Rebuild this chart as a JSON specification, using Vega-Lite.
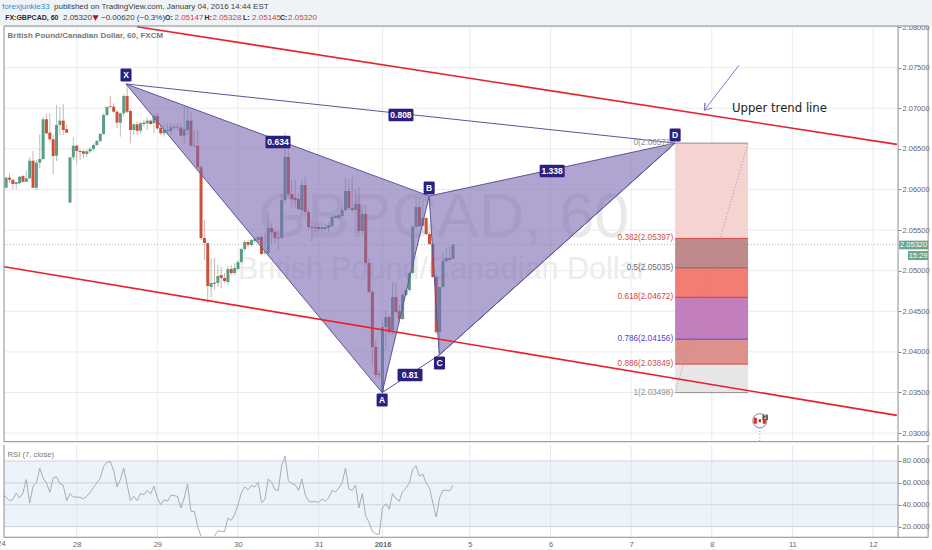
{
  "$schema": "https://vega.github.io/schema/vega-lite/v6.json",
  "description": "GBPCAD 60 minute chart with a bearish harmonic pattern, fib levels, trend lines and RSI",
  "background": "white",
  "padding": 0,
  "spacing": 0,
  "config": {
    "view": {"stroke": null},
    "font": "Liberation Sans",
    "text": {"font": "Liberation Sans"},
    "axis": {"grid": false}
  },
  "datasets": {
    "candles": [
      {"bar":-21,"open":2.06021,"close":2.06145,"high":2.06157,"low":2.06014},
      {"bar":-20,"open":2.06145,"close":2.0612,"high":2.06199,"low":2.06076},
      {"bar":-19,"open":2.0612,"close":2.06067,"high":2.06125,"low":2.06002},
      {"bar":-18,"open":2.06067,"close":2.06088,"high":2.06095,"low":2.06002},
      {"bar":-17,"open":2.06076,"close":2.06157,"high":2.06166,"low":2.06067},
      {"bar":-16,"open":2.06166,"close":2.06095,"high":2.06178,"low":2.06083},
      {"bar":-15,"open":2.06095,"close":2.06137,"high":2.06231,"low":2.06092},
      {"bar":-14,"open":2.06137,"close":2.06354,"high":2.06396,"low":2.06129},
      {"bar":-13,"open":2.06354,"close":2.06021,"high":2.06473,"low":2.06021},
      {"bar":-12,"open":2.06021,"close":2.06329,"high":2.06363,"low":2.05993},
      {"bar":-11,"open":2.06329,"close":2.06375,"high":2.06679,"low":2.0626},
      {"bar":-10,"open":2.06375,"close":2.06864,"high":2.06896,"low":2.06363},
      {"bar":-9,"open":2.06864,"close":2.06691,"high":2.06938,"low":2.06683},
      {"bar":-8,"open":2.06699,"close":2.06618,"high":2.06938,"low":2.06588},
      {"bar":-7,"open":2.06618,"close":2.06412,"high":2.0667,"low":2.06186},
      {"bar":-6,"open":2.06416,"close":2.06794,"high":2.0704,"low":2.0635},
      {"bar":-5,"open":2.06794,"close":2.06847,"high":2.07019,"low":2.0667},
      {"bar":-4,"open":2.06847,"close":2.06732,"high":2.07052,"low":2.0667},
      {"bar":-3,"open":2.06741,"close":2.06699,"high":2.06794,"low":2.06699},
      {"bar":-2,"open":2.05837,"close":2.06396,"high":2.06396,"low":2.05837},
      {"bar":-1,"open":2.06396,"close":2.06539,"high":2.06642,"low":2.06363},
      {"bar":0,"open":2.06539,"close":2.06473,"high":2.06547,"low":2.06322},
      {"bar":1,"open":2.06473,"close":2.06461,"high":2.06494,"low":2.06363},
      {"bar":2,"open":2.0647,"close":2.0644,"high":2.06486,"low":2.06384},
      {"bar":3,"open":2.06436,"close":2.0647,"high":2.06494,"low":2.06396},
      {"bar":4,"open":2.0647,"close":2.06498,"high":2.06526,"low":2.06445},
      {"bar":5,"open":2.06498,"close":2.06547,"high":2.06568,"low":2.06477},
      {"bar":6,"open":2.06547,"close":2.06597,"high":2.06609,"low":2.06535},
      {"bar":7,"open":2.06597,"close":2.06683,"high":2.06699,"low":2.06584},
      {"bar":8,"open":2.06683,"close":2.06917,"high":2.06938,"low":2.06674},
      {"bar":9,"open":2.06917,"close":2.07015,"high":2.07028,"low":2.06904},
      {"bar":10,"open":2.07028,"close":2.07019,"high":2.07151,"low":2.06999},
      {"bar":11,"open":2.07019,"close":2.06957,"high":2.07061,"low":2.06938},
      {"bar":12,"open":2.06957,"close":2.06822,"high":2.06978,"low":2.06753},
      {"bar":13,"open":2.06822,"close":2.06938,"high":2.06945,"low":2.0665},
      {"bar":14,"open":2.06938,"close":2.07151,"high":2.07175,"low":2.06896},
      {"bar":15,"open":2.07151,"close":2.06957,"high":2.07286,"low":2.06938},
      {"bar":16,"open":2.06966,"close":2.06732,"high":2.06987,"low":2.06568},
      {"bar":17,"open":2.06732,"close":2.06802,"high":2.06815,"low":2.0667},
      {"bar":18,"open":2.06802,"close":2.06723,"high":2.06834,"low":2.0667},
      {"bar":19,"open":2.06723,"close":2.06815,"high":2.06834,"low":2.06691},
      {"bar":20,"open":2.06822,"close":2.06806,"high":2.06855,"low":2.06773},
      {"bar":21,"open":2.06815,"close":2.06847,"high":2.06888,"low":2.06732},
      {"bar":22,"open":2.06847,"close":2.06806,"high":2.06864,"low":2.06794},
      {"bar":23,"open":2.06815,"close":2.06904,"high":2.06938,"low":2.06691},
      {"bar":24,"open":2.06904,"close":2.06753,"high":2.06938,"low":2.06732},
      {"bar":25,"open":2.0676,"close":2.06691,"high":2.06794,"low":2.0667},
      {"bar":26,"open":2.06691,"close":2.06732,"high":2.06794,"low":2.0665},
      {"bar":27,"open":2.0672,"close":2.06732,"high":2.06815,"low":2.06691},
      {"bar":28,"open":2.0672,"close":2.06765,"high":2.06815,"low":2.0667},
      {"bar":29,"open":2.0676,"close":2.06773,"high":2.06815,"low":2.06732},
      {"bar":30,"open":2.06773,"close":2.06765,"high":2.06822,"low":2.06732},
      {"bar":31,"open":2.0676,"close":2.06662,"high":2.06815,"low":2.0665},
      {"bar":32,"open":2.06662,"close":2.06741,"high":2.07019,"low":2.06568},
      {"bar":33,"open":2.06732,"close":2.06847,"high":2.07019,"low":2.0667},
      {"bar":34,"open":2.06847,"close":2.06539,"high":2.06957,"low":2.06526},
      {"bar":35,"open":2.06539,"close":2.06531,"high":2.06732,"low":2.06523},
      {"bar":36,"open":2.06539,"close":2.06273,"high":2.06732,"low":2.0626},
      {"bar":37,"open":2.06273,"close":2.05402,"high":2.06301,"low":2.05377},
      {"bar":38,"open":2.05402,"close":2.0534,"high":2.05624,"low":2.05131},
      {"bar":39,"open":2.0534,"close":2.04811,"high":2.0534,"low":2.04602},
      {"bar":40,"open":2.04799,"close":2.04848,"high":2.05156,"low":2.04675},
      {"bar":41,"open":2.04852,"close":2.04839,"high":2.05156,"low":2.04762},
      {"bar":42,"open":2.04848,"close":2.04934,"high":2.0507,"low":2.04799},
      {"bar":43,"open":2.04946,"close":2.04909,"high":2.05045,"low":2.04786},
      {"bar":44,"open":2.04909,"close":2.04872,"high":2.04971,"low":2.04848},
      {"bar":45,"open":2.0486,"close":2.0502,"high":2.05057,"low":2.04823},
      {"bar":46,"open":2.0502,"close":2.04971,"high":2.0507,"low":2.04946},
      {"bar":47,"open":2.04971,"close":2.05033,"high":2.05094,"low":2.04946},
      {"bar":48,"open":2.0502,"close":2.05106,"high":2.05131,"low":2.05008},
      {"bar":49,"open":2.05106,"close":2.05267,"high":2.05279,"low":2.05094},
      {"bar":50,"open":2.05267,"close":2.05353,"high":2.05377,"low":2.05242},
      {"bar":51,"open":2.05353,"close":2.05316,"high":2.05377,"low":2.05291},
      {"bar":52,"open":2.05316,"close":2.05377,"high":2.0539,"low":2.05291},
      {"bar":53,"open":2.05365,"close":2.0539,"high":2.05414,"low":2.0534},
      {"bar":54,"open":2.05377,"close":2.05414,"high":2.05427,"low":2.05353},
      {"bar":55,"open":2.05414,"close":2.05205,"high":2.05439,"low":2.05193},
      {"bar":56,"open":2.05217,"close":2.0523,"high":2.05464,"low":2.05193},
      {"bar":57,"open":2.05217,"close":2.05525,"high":2.0571,"low":2.05193},
      {"bar":58,"open":2.05525,"close":2.05476,"high":2.05587,"low":2.05316},
      {"bar":59,"open":2.05476,"close":2.05402,"high":2.05501,"low":2.0534},
      {"bar":60,"open":2.05406,"close":2.05396,"high":2.05501,"low":2.05254},
      {"bar":61,"open":2.05402,"close":2.0587,"high":2.05956,"low":2.0539},
      {"bar":62,"open":2.0587,"close":2.064,"high":2.06699,"low":2.05833},
      {"bar":63,"open":2.064,"close":2.05944,"high":2.06547,"low":2.05907},
      {"bar":64,"open":2.05944,"close":2.05882,"high":2.06116,"low":2.05784},
      {"bar":65,"open":2.05895,"close":2.0587,"high":2.06116,"low":2.05771},
      {"bar":66,"open":2.05882,"close":2.05759,"high":2.05956,"low":2.05747},
      {"bar":67,"open":2.05747,"close":2.06055,"high":2.06116,"low":2.05661},
      {"bar":68,"open":2.06055,"close":2.05722,"high":2.06153,"low":2.05661},
      {"bar":69,"open":2.05722,"close":2.05537,"high":2.05771,"low":2.05501},
      {"bar":70,"open":2.05537,"close":2.05525,"high":2.05624,"low":2.05353},
      {"bar":71,"open":2.05525,"close":2.05537,"high":2.05587,"low":2.05476},
      {"bar":72,"open":2.05537,"close":2.05513,"high":2.05599,"low":2.05476},
      {"bar":73,"open":2.05513,"close":2.05537,"high":2.05599,"low":2.05476},
      {"bar":74,"open":2.05513,"close":2.05537,"high":2.05574,"low":2.05501},
      {"bar":75,"open":2.05525,"close":2.05562,"high":2.05599,"low":2.05476},
      {"bar":76,"open":2.0555,"close":2.05661,"high":2.05673,"low":2.05537},
      {"bar":77,"open":2.05648,"close":2.05673,"high":2.05685,"low":2.05648},
      {"bar":78,"open":2.05648,"close":2.05685,"high":2.0571,"low":2.05636},
      {"bar":79,"open":2.05673,"close":2.05747,"high":2.05784,"low":2.05661},
      {"bar":80,"open":2.05747,"close":2.05981,"high":2.06141,"low":2.05722},
      {"bar":81,"open":2.05981,"close":2.05771,"high":2.06116,"low":2.05747},
      {"bar":82,"open":2.05771,"close":2.05747,"high":2.06153,"low":2.05722},
      {"bar":83,"open":2.05747,"close":2.05821,"high":2.05993,"low":2.05747},
      {"bar":84,"open":2.05821,"close":2.05488,"high":2.0603,"low":2.05464},
      {"bar":85,"open":2.05488,"close":2.05698,"high":2.05808,"low":2.05439},
      {"bar":86,"open":2.05698,"close":2.05094,"high":2.05808,"low":2.0507},
      {"bar":87,"open":2.05094,"close":2.04737,"high":2.05156,"low":2.04725},
      {"bar":88,"open":2.04737,"close":2.0406,"high":2.04762,"low":2.03838},
      {"bar":89,"open":2.0406,"close":2.03715,"high":2.04146,"low":2.03678},
      {"bar":90,"open":2.03727,"close":2.03715,"high":2.03776,"low":2.03678},
      {"bar":91,"open":2.03509,"close":2.04306,"high":2.04368,"low":2.03505},
      {"bar":92,"open":2.04306,"close":2.04429,"high":2.04515,"low":2.04023},
      {"bar":93,"open":2.04429,"close":2.04244,"high":2.04454,"low":2.04207},
      {"bar":94,"open":2.04269,"close":2.04675,"high":2.0486,"low":2.04207},
      {"bar":95,"open":2.04675,"close":2.04491,"high":2.04848,"low":2.04478},
      {"bar":96,"open":2.04503,"close":2.04405,"high":2.04577,"low":2.04355},
      {"bar":97,"open":2.04405,"close":2.047,"high":2.04725,"low":2.04392},
      {"bar":98,"open":2.047,"close":2.04762,"high":2.04786,"low":2.04688},
      {"bar":99,"open":2.04762,"close":2.04971,"high":2.04983,"low":2.04737},
      {"bar":100,"open":2.04971,"close":2.05537,"high":2.05562,"low":2.04946},
      {"bar":101,"open":2.05537,"close":2.05784,"high":2.05907,"low":2.05525},
      {"bar":102,"open":2.05784,"close":2.0555,"high":2.05895,"low":2.05537},
      {"bar":103,"open":2.0555,"close":2.05648,"high":2.0587,"low":2.05464},
      {"bar":104,"open":2.05648,"close":2.05451,"high":2.05661,"low":2.05439},
      {"bar":105,"open":2.05451,"close":2.05328,"high":2.05476,"low":2.05316},
      {"bar":106,"open":2.05328,"close":2.04922,"high":2.0534,"low":2.04909},
      {"bar":107,"open":2.04922,"close":2.04244,"high":2.04946,"low":2.0422},
      {"bar":108,"open":2.04244,"close":2.04799,"high":2.04799,"low":2.03986},
      {"bar":109,"open":2.04799,"close":2.05119,"high":2.05217,"low":2.04786},
      {"bar":110,"open":2.05119,"close":2.05156,"high":2.05279,"low":2.05106},
      {"bar":111,"open":2.05131,"close":2.05156,"high":2.05291,"low":2.05119},
      {"bar":112,"open":2.05147,"close":2.0532,"high":2.05328,"low":2.05145}
    ],
    "rsi": [
      {"part":"a","bar":-22,"value":48.3},{"part":"a","bar":-21,"value":46.8},{"part":"a","bar":-20,"value":43.8},{"part":"a","bar":-19,"value":44.7},
      {"part":"a","bar":-18,"value":50.8},{"part":"a","bar":-17,"value":46.2},{"part":"a","bar":-16,"value":50.8},{"part":"a","bar":-15,"value":63},
      {"part":"a","bar":-14,"value":41.6},{"part":"a","bar":-13,"value":56.9},{"part":"a","bar":-12,"value":59.9},{"part":"a","bar":-11,"value":73.6},
      {"part":"a","bar":-10,"value":64.5},{"part":"a","bar":-9,"value":59.9},{"part":"a","bar":-8,"value":51.4},{"part":"a","bar":-7,"value":64.5},
      {"part":"a","bar":-6,"value":65.4},{"part":"a","bar":-5,"value":59.3},{"part":"a","bar":-4,"value":57.8},{"part":"a","bar":-3,"value":43.8},
      {"part":"a","bar":-2,"value":50.2},{"part":"a","bar":-1,"value":47.1},{"part":"a","bar":1,"value":46.8},{"part":"a","bar":2,"value":45.3},
      {"part":"a","bar":3,"value":47.7},{"part":"a","bar":4,"value":51.4},{"part":"a","bar":5,"value":55.9},{"part":"a","bar":6,"value":59.9},
      {"part":"a","bar":7,"value":64.5},{"part":"a","bar":8,"value":75.1},{"part":"a","bar":9,"value":78.8},{"part":"a","bar":10,"value":79.4},
      {"part":"a","bar":11,"value":71.5},{"part":"a","bar":12,"value":56.3},{"part":"a","bar":13,"value":63},{"part":"a","bar":14,"value":73.6},
      {"part":"a","bar":15,"value":58.4},{"part":"a","bar":16,"value":43.8},{"part":"a","bar":17,"value":47.7},{"part":"a","bar":18,"value":43.8},
      {"part":"a","bar":19,"value":50.2},{"part":"a","bar":20,"value":49.3},{"part":"a","bar":21,"value":53.2},{"part":"a","bar":22,"value":49.9},
      {"part":"a","bar":23,"value":56.9},{"part":"a","bar":24,"value":46.2},{"part":"a","bar":25,"value":40.1},{"part":"a","bar":26,"value":44.7},
      {"part":"a","bar":27,"value":43.2},{"part":"a","bar":28,"value":48.6},{"part":"a","bar":29,"value":48.3},{"part":"a","bar":30,"value":47.7},
      {"part":"a","bar":31,"value":37.1},{"part":"a","bar":32,"value":46.2},{"part":"a","bar":33,"value":59},{"part":"a","bar":34,"value":34},
      {"part":"a","bar":35,"value":34},{"part":"a","bar":36,"value":20.3},{"part":"a","bar":37,"value":11.2},
      {"part":"b","bar":41,"value":11.2},{"part":"b","bar":42,"value":16.3},{"part":"b","bar":43,"value":15.7},{"part":"b","bar":44,"value":15.4},
      {"part":"b","bar":45,"value":27.9},{"part":"b","bar":46,"value":25.8},{"part":"b","bar":47,"value":31},{"part":"b","bar":48,"value":40.1},
      {"part":"b","bar":49,"value":50.8},{"part":"b","bar":50,"value":56.3},{"part":"b","bar":51,"value":53.8},{"part":"b","bar":52,"value":57.5},
      {"part":"b","bar":53,"value":56.3},{"part":"b","bar":54,"value":60.5},{"part":"b","bar":55,"value":42.2},{"part":"b","bar":56,"value":44.7},
      {"part":"b","bar":57,"value":63.6},{"part":"b","bar":58,"value":60.5},{"part":"b","bar":59,"value":53.8},{"part":"b","bar":60,"value":53.2},
      {"part":"b","bar":61,"value":75.7},{"part":"b","bar":62,"value":84.3},{"part":"b","bar":63,"value":62},{"part":"b","bar":64,"value":59.3},
      {"part":"b","bar":65,"value":58.4},{"part":"b","bar":66,"value":53.2},{"part":"b","bar":67,"value":63.6},{"part":"b","bar":68,"value":49.3},
      {"part":"b","bar":69,"value":43.2},{"part":"b","bar":70,"value":42.5},{"part":"b","bar":71,"value":43.2},{"part":"b","bar":72,"value":41.9},
      {"part":"b","bar":73,"value":45.3},{"part":"b","bar":74,"value":43.2},{"part":"b","bar":75,"value":46.2},{"part":"b","bar":76,"value":53.2},
      {"part":"b","bar":77,"value":51.7},{"part":"b","bar":78,"value":55.3},{"part":"b","bar":79,"value":59.9},{"part":"b","bar":80,"value":73.6},
      {"part":"b","bar":81,"value":54.4},{"part":"b","bar":82,"value":53.2},{"part":"b","bar":83,"value":57.8},{"part":"b","bar":84,"value":37.1},
      {"part":"b","bar":85,"value":50.2},{"part":"b","bar":86,"value":30},{"part":"b","bar":87,"value":24},{"part":"b","bar":88,"value":15.7},
      {"part":"b","bar":89,"value":13.6},{"part":"b","bar":90,"value":12.7},{"part":"b","bar":91,"value":37.1},{"part":"b","bar":92,"value":41},
      {"part":"b","bar":93,"value":36.1},{"part":"b","bar":94,"value":50.2},{"part":"b","bar":95,"value":45.6},{"part":"b","bar":96,"value":43.2},
      {"part":"b","bar":97,"value":52.3},{"part":"b","bar":98,"value":55.3},{"part":"b","bar":99,"value":59.9},{"part":"b","bar":100,"value":72.1},
      {"part":"b","bar":101,"value":75.7},{"part":"b","bar":102,"value":66},{"part":"b","bar":103,"value":68.1},{"part":"b","bar":104,"value":59.9},
      {"part":"b","bar":105,"value":55.3},{"part":"b","bar":106,"value":41.6},{"part":"b","bar":107,"value":28.8},{"part":"b","bar":108,"value":46.2},
      {"part":"b","bar":109,"value":53.2},{"part":"b","bar":110,"value":53.2},{"part":"b","bar":111,"value":52.6},{"part":"b","bar":112,"value":57.8}
    ],
    "fibLevels": [
      {"level":"0","bar":178.1,"bar2":199.8,"price":2.06571,"label":"0(2.06571)"},
      {"level":"0.382","bar":178.1,"bar2":199.8,"price":2.05397,"label":"0.382(2.05397)"},
      {"level":"0.5","bar":178.1,"bar2":199.8,"price":2.05035,"label":"0.5(2.05035)"},
      {"level":"0.618","bar":178.1,"bar2":199.8,"price":2.04672,"label":"0.618(2.04672)"},
      {"level":"0.786","bar":178.1,"bar2":199.8,"price":2.04156,"label":"0.786(2.04156)"},
      {"level":"0.886","bar":178.1,"bar2":199.8,"price":2.03849,"label":"0.886(2.03849)"},
      {"level":"1","bar":178.1,"bar2":199.8,"price":2.03498,"label":"1(2.03498)"}
    ],
    "fibBands": [
      {"band":"a","bar":178.1,"bar2":199.8,"price":2.06571,"price2":2.05397},
      {"band":"b","bar":178.1,"bar2":199.8,"price":2.05397,"price2":2.05035},
      {"band":"c","bar":178.1,"bar2":199.8,"price":2.05035,"price2":2.04672},
      {"band":"d","bar":178.1,"bar2":199.8,"price":2.04672,"price2":2.04156},
      {"band":"e","bar":178.1,"bar2":199.8,"price":2.04156,"price2":2.03849},
      {"band":"f","bar":178.1,"bar2":199.8,"price":2.03849,"price2":2.03498}
    ]
  },
  "vconcat": [
    {
      "width": 932,
      "height": 442,
      "encoding": {
        "x": {
          "field": "bar", "type": "quantitative", "scale": {"domain": [-22.83, 254.55], "nice": false, "zero": false},
          "axis": {"title": null, "domain": false, "ticks": false, "labels": false}
        },
        "y": {
          "field": "price", "type": "quantitative", "scale": {"domain": [2.0289, 2.08333], "nice": false, "zero": false},
          "axis": {"orient": "right", "offset": -34, "title": null, "domain": false, "values": [2.03,2.035,2.04,2.045,2.05,2.055,2.06,2.065,2.07,2.075,2.08], "format": ".5f", "tickSize": 3, "tickColor": "#888", "labelFontSize": 7.5, "labelColor": "#666", "labelPadding": 1}
        }
      },
      "layer": [
        {
          "data": {"values": [
            {"bar":-21.63,"bar2":244.45,"price":2.03},{"bar":-21.63,"bar2":244.45,"price":2.035},{"bar":-21.63,"bar2":244.45,"price":2.04},
            {"bar":-21.63,"bar2":244.45,"price":2.045},{"bar":-21.63,"bar2":244.45,"price":2.05},{"bar":-21.63,"bar2":244.45,"price":2.055},
            {"bar":-21.63,"bar2":244.45,"price":2.06},{"bar":-21.63,"bar2":244.45,"price":2.065},{"bar":-21.63,"bar2":244.45,"price":2.07},
            {"bar":-21.63,"bar2":244.45,"price":2.075},{"bar":-21.63,"bar2":244.45,"price":2.08}
          ]},
          "mark": {"type": "rule", "color": "#ececec", "strokeWidth": 1},
          "encoding": {"x2": {"field": "bar2"}}
        },
        {
          "data": {"values": [
            {"bar":0,"price":2.08013,"price2":2.0289},{"bar":24,"price":2.08013,"price2":2.0289},{"bar":48,"price":2.08013,"price2":2.0289},
            {"bar":72,"price":2.08013,"price2":2.0289},{"bar":91,"price":2.08013,"price2":2.0289},{"bar":117,"price":2.08013,"price2":2.0289},
            {"bar":141,"price":2.08013,"price2":2.0289},{"bar":165,"price":2.08013,"price2":2.0289},{"bar":189,"price":2.08013,"price2":2.0289},
            {"bar":213,"price":2.08013,"price2":2.0289},{"bar":237,"price":2.08013,"price2":2.0289}
          ]},
          "mark": {"type": "rule", "color": "#ececec", "strokeWidth": 1},
          "encoding": {"y2": {"field": "price2"}}
        },
        {
          "data": {"values": [{"bar":54,"price":2.05645,"word":"GBPCAD, 60"}]},
          "mark": {"type": "text", "fontSize": 63, "align": "left", "baseline": "middle", "color": "#e9e9e9"},
          "encoding": {"text": {"field": "word"}}
        },
        {
          "data": {"values": [{"bar":48,"price":2.05008,"word":"British Pound/Canadian Dollar"}]},
          "mark": {"type": "text", "fontSize": 30.5, "align": "left", "baseline": "middle", "color": "#ececec"},
          "encoding": {"text": {"field": "word"}}
        },
        {
          "data": {"name": "fibBands"},
          "mark": {"type": "rect"},
          "encoding": {
            "x2": {"field": "bar2"},
            "y2": {"field": "price2"},
            "color": {
              "field": "band", "type": "nominal", "legend": null,
              "scale": {
                "domain": ["a","b","c","d","e","f","0","0.382","0.5","0.618","0.786","0.886","1","name","plain","rise"],
                "range": ["#f5d3d1","#c08a8c","#f27e73","#c37fbd","#dc928a","#e6e6e6","#8f8f8f","#d44a4a","#666677","#d43c3c","#4a44d8","#d44a4a","#8f8f8f","#2a8fd8","#3a3a3a","#c8403a"]
              }
            }
          }
        },
        {
          "data": {"name": "candles"},
          "mark": {"type": "rule", "strokeWidth": 1, "opacity": 0.5},
          "encoding": {
            "y": {"field": "high", "type": "quantitative", "axis": {"title": null}},
            "y2": {"field": "low"},
            "color": {"condition": {"test": "datum.close >= datum.open", "value": "#5f8f7c"}, "value": "#a5685c"}
          }
        },
        {
          "data": {"name": "candles"},
          "mark": {"type": "rule", "strokeWidth": 3},
          "encoding": {
            "y": {"field": "open", "type": "quantitative", "axis": {"title": null}},
            "y2": {"field": "close"},
            "color": {"condition": {"test": "datum.close >= datum.open", "value": "#5b9c84"}, "value": "#cf4f38"}
          }
        },
        {
          "data": {"values": [
            {"leg":"XAB","bar":14.67,"top":2.07299,"bottom":2.07299},
            {"leg":"XAB","bar":90.9,"top":2.06133,"bottom":2.03498},
            {"leg":"XAB","bar":104.9,"top":2.05919,"bottom":2.05919},
            {"leg":"BCD","bar":104.9,"top":2.05919,"bottom":2.05919},
            {"leg":"BCD","bar":107.9,"top":2.05946,"bottom":2.03961},
            {"leg":"BCD","bar":178.1,"top":2.06571,"bottom":2.06571}
          ]},
          "mark": {"type": "area", "color": "#7b68b0", "opacity": 0.6},
          "encoding": {
            "y": {"field": "top", "type": "quantitative", "axis": {"title": null}},
            "y2": {"field": "bottom"},
            "detail": {"field": "leg"}
          }
        },
        {
          "data": {"values": [
            {"seq":1,"point":"X","bar":14.67,"price":2.07299},
            {"seq":2,"point":"D","bar":178.1,"price":2.06571},
            {"seq":3,"point":"B","bar":104.9,"price":2.05919},
            {"seq":4,"point":"X","bar":14.67,"price":2.07299},
            {"seq":5,"point":"A","bar":90.9,"price":2.03498},
            {"seq":6,"point":"B","bar":104.9,"price":2.05919},
            {"seq":7,"point":"C","bar":107.9,"price":2.03961},
            {"seq":8,"point":"D","bar":178.1,"price":2.06571},
            {"seq":9,"point":"C","bar":107.9,"price":2.03961},
            {"seq":10,"point":"A","bar":90.9,"price":2.03498}
          ]},
          "mark": {"type": "line", "color": "#5c5699", "strokeWidth": 1},
          "encoding": {"order": {"field": "seq"}}
        },
        {
          "data": {"values": [
            {"line":"upper","bar":17.95,"price":2.08004},
            {"line":"upper","bar":244.1,"price":2.06555},
            {"line":"lower","bar":-21.6,"price":2.05048},
            {"line":"lower","bar":244.1,"price":2.03218}
          ]},
          "mark": {"type": "line", "color": "#e8222a", "strokeWidth": 1.6},
          "encoding": {"detail": {"field": "line"}}
        },
        {
          "data": {"name": "fibLevels"},
          "mark": {"type": "rule", "strokeWidth": 1},
          "encoding": {
            "x2": {"field": "bar2"},
            "color": {"field": "level", "type": "nominal", "legend": null}
          }
        },
        {
          "data": {"name": "fibLevels"},
          "mark": {"type": "text", "align": "right", "baseline": "middle", "fontSize": 8.2, "dx": -2},
          "encoding": {
            "text": {"field": "label"},
            "color": {"field": "level", "type": "nominal", "legend": null}
          }
        },
        {
          "data": {"values": [{"seq":1,"bar":178.1,"price":2.03498},{"seq":2,"bar":199.8,"price":2.06571}]},
          "mark": {"type": "line", "color": "#8f8f8f", "strokeWidth": 0.8, "strokeDash": [1, 2]},
          "encoding": {"order": {"field": "seq"}}
        },
        {
          "data": {"values": [{"bar":-21.63,"price":2.0532},{"bar":244.45,"price":2.0532}]},
          "mark": {"type": "line", "color": "#7f9a8f", "strokeWidth": 0.7, "strokeDash": [1, 2]}
        },
        {
          "data": {"values": [
            {"bar":-22.83,"bar2":254.55,"price":2.08333,"price2":2.08013}
          ]},
          "mark": {"type": "rect", "color": "#f0f3f6"},
          "encoding": {"x2": {"field": "bar2"}, "y2": {"field": "price2"}}
        },
        {
          "data": {"values": [
            {"bar":-21.63,"bar2":253.4,"price":2.08013,"price2":2.08013},
            {"bar":-21.63,"bar2":253.4,"price":2.02894,"price2":2.02894},
            {"bar":-21.63,"bar2":-21.63,"price":2.08013,"price2":2.0289},
            {"bar":244.45,"bar2":244.45,"price":2.08013,"price2":2.0289},
            {"bar":253.4,"bar2":253.4,"price":2.08013,"price2":2.0289}
          ]},
          "mark": {"type": "rule", "color": "#8c8c8c", "strokeWidth": 1},
          "encoding": {"x2": {"field": "bar2"}, "y2": {"field": "price2"}}
        },
        {
          "data": {"values": [
            {"seq":1,"bar":197.1,"price":2.07529},
            {"seq":2,"bar":186.8,"price":2.06975},
            {"seq":3,"bar":187,"price":2.07065},
            {"seq":4,"bar":186.8,"price":2.06975},
            {"seq":5,"bar":189.1,"price":2.07003}
          ]},
          "mark": {"type": "line", "color": "#7d7cc8", "strokeWidth": 1},
          "encoding": {"order": {"field": "seq"}}
        },
        {
          "data": {"values": [{"bar":195,"price":2.06999,"word":"Upper trend line"}]},
          "mark": {"type": "text", "font": "DejaVu Sans", "fontSize": 11.7, "align": "left", "baseline": "middle", "color": "#222"},
          "encoding": {"text": {"field": "word"}}
        },
        {
          "data": {"values": [{"bar":14.67,"price":2.07409,"word":"X"},{"bar":90.9,"price":2.03407,"word":"A"},{"bar":104.9,"price":2.06018,"word":"B"},{"bar":107.97,"price":2.03863,"word":"C"},{"bar":178.1,"price":2.0667,"word":"D"}]},
          "mark": {"type": "point", "filled": true, "opacity": 1, "color": "#2b1f80", "size": 169, "shape": "M-.65,-1H.65Q.85,-1 .85,-.8V.8Q.85,1 .65,1H-.65Q-.85,1 -.85,.8V-.8Q-.85,-1 -.65,-1Z"}
        },
        {
          "data": {"values": [{"bar":96.5,"price":2.06917,"word":"0.808"},{"bar":59.9,"price":2.06584,"word":"0.634"},{"bar":141.5,"price":2.06227,"word":"1.338"},{"bar":99.2,"price":2.03715,"word":"0.81"}]},
          "mark": {"type": "point", "filled": true, "opacity": 1, "color": "#2b1f80", "size": 625, "shape": "M-.9,-.5H.9Q1,-.5 1,-.4V.4Q1,.5 .9,.5H-.9Q-1,.5 -1,.4V-.4Q-1,-.5 -.9,-.5Z"}
        },
        {
          "data": {"values": [{"bar":14.67,"price":2.07409,"word":"X"},{"bar":90.9,"price":2.03407,"word":"A"},{"bar":104.9,"price":2.06018,"word":"B"},{"bar":107.97,"price":2.03863,"word":"C"},{"bar":178.1,"price":2.0667,"word":"D"},{"bar":96.5,"price":2.06917,"word":"0.808"},{"bar":59.9,"price":2.06584,"word":"0.634"},{"bar":141.5,"price":2.06227,"word":"1.338"},{"bar":99.2,"price":2.03715,"word":"0.81"}]},
          "mark": {"type": "text", "fontSize": 8.5, "fontWeight": "bold", "color": "white", "baseline": "middle"},
          "encoding": {"text": {"field": "word"}}
        },
        {
          "data": {"values": [{"seq":1,"bar":203.3,"price":2.03062},{"seq":2,"bar":203.3,"price":2.0289}]},
          "mark": {"type": "line", "color": "#999", "strokeWidth": 1, "strokeDash": [1, 2]},
          "encoding": {"order": {"field": "seq"}}
        },
        {
          "data": {"values": [{"bar":203.3,"price":2.03152}]},
          "mark": {"type": "point", "shape": "circle", "size": 200, "fill": "white", "filled": true, "opacity": 1, "stroke": "#8a8a8a", "strokeWidth": 1}
        },
        {
          "data": {"values": [{"bar":203.3,"price":2.03152}]},
          "mark": {"type": "point", "filled": true, "opacity": 1, "color": "#e0242c", "size": 144, "shape": "M-1,-.5H-.5V.5H-1ZM.5,-.5H1V.5H.5ZM-.2,-.25H.2V.25H-.2Z"}
        },
        {
          "data": {"values": [{"bar":204.9,"price":2.03194}]},
          "mark": {"type": "point", "shape": "square", "filled": true, "opacity": 1, "color": "#555", "size": 30}
        },
        {
          "data": {"values": [{"bar":204.9,"price":2.03194,"word":"2"}]},
          "mark": {"type": "text", "fontSize": 5, "color": "white", "baseline": "middle"},
          "encoding": {"text": {"field": "word"}}
        },
        {
          "data": {"values": [{"bar":249.08,"price":2.05316}]},
          "mark": {"type": "point", "filled": true, "opacity": 1, "color": "#6aa58d", "size": 841, "shape": "M-1,-.3H1V.3H-1Z"}
        },
        {
          "data": {"values": [{"bar":250.4,"price":2.05186}]},
          "mark": {"type": "point", "filled": true, "opacity": 1, "color": "#6aa58d", "size": 400, "shape": "M-1,-.45H1V.45H-1Z"}
        },
        {
          "data": {"values": [{"bar":249.08,"price":2.05316,"word":"2.05320"},{"bar":250.4,"price":2.05186,"word":"15:29"}]},
          "mark": {"type": "text", "fontSize": 7.5, "color": "white", "baseline": "middle"},
          "encoding": {"text": {"field": "word"}}
        },
        {
          "data": {"values": [
            {"role":"name","bar":-22.2,"price":2.08247,"word":"forexjunkie33"},
            {"role":"plain","bar":-6.76,"price":2.08247,"word":"published on TradingView.com, January 04, 2016 14:44 EST"},
            {"role":"plain","bar":-4.08,"price":2.08111,"word":"2.05320"},
            {"role":"plain","bar":7.23,"price":2.08111,"word":"−0.00620 (−0.3%)"},
            {"role":"rise","bar":29.1,"price":2.08111,"word":"2.05147"},
            {"role":"rise","bar":40.4,"price":2.08111,"word":"2.05328"},
            {"role":"rise","bar":52.2,"price":2.08111,"word":"2.05145"},
            {"role":"rise","bar":62.9,"price":2.08111,"word":"2.05320"}
          ]},
          "mark": {"type": "text", "fontSize": 8, "align": "left", "baseline": "middle"},
          "encoding": {
            "text": {"field": "word"},
            "color": {"field": "role", "type": "nominal", "legend": null}
          }
        },
        {
          "data": {"values": [
            {"bar":-21.3,"price":2.08111,"word":"FX:GBPCAD, 60"},
            {"bar":26.3,"price":2.08111,"word":"O:"},
            {"bar":38,"price":2.08111,"word":"H:"},
            {"bar":49.5,"price":2.08111,"word":"L:"},
            {"bar":60.5,"price":2.08111,"word":"C:"}
          ]},
          "mark": {"type": "text", "fontSize": 7, "fontWeight": "bold", "align": "left", "baseline": "middle", "color": "#2a2a2a"},
          "encoding": {"text": {"field": "word"}}
        },
        {
          "data": {"values": [{"bar":-20.6,"price":2.07889,"word":"British Pound/Canadian Dollar, 60, FXCM"}]},
          "mark": {"type": "text", "fontSize": 8, "fontWeight": "bold", "align": "left", "baseline": "middle", "color": "#777"},
          "encoding": {"text": {"field": "word"}}
        },
        {
          "data": {"values": [{"bar":5.6,"price":2.08111}]},
          "mark": {"type": "point", "shape": "triangle-down", "filled": true, "opacity": 1, "color": "#a81818", "size": 40}
        }
      ]
    },
    {
      "width": 932,
      "height": 108,
      "encoding": {
        "x": {
          "field": "bar", "type": "quantitative", "scale": {"domain": [-22.83, 254.55], "nice": false, "zero": false},
          "axis": {"orient": "bottom", "offset": -16, "title": null, "domain": false, "ticks": false, "values": [0,24,48,72,91,117,141,165,189,213,237], "labelExpr": "{'0':'28','24':'29','48':'30','72':'31','91':'2016','117':'5','141':'6','165':'7','189':'8','213':'11','237':'12'}[datum.value]", "labelFontSize": 7.5, "labelColor": "#666", "labelPadding": 3, "labelFontWeight": {"condition": {"test": "datum.value == 91", "value": "bold"}, "value": "normal"}}
        },
        "y": {
          "field": "value", "type": "quantitative", "scale": {"domain": [-4.07, 94.6], "nice": false, "zero": false},
          "axis": {"orient": "right", "offset": -34, "title": null, "domain": false, "values": [20,40,60,80], "format": ".4f", "tickSize": 3, "tickColor": "#888", "labelFontSize": 7.5, "labelColor": "#666", "labelPadding": 1}
        }
      },
      "layer": [
        {
          "data": {"values": [{"bar":-21.63,"bar2":244.45,"value":80,"value2":20}]},
          "mark": {"type": "rect", "color": "#edf3fb"},
          "encoding": {"x2": {"field": "bar2"}, "y2": {"field": "value2"}}
        },
        {
          "data": {"values": [
            {"bar":0,"value":94.6,"value2":10.3},{"bar":24,"value":94.6,"value2":10.3},{"bar":48,"value":94.6,"value2":10.3},
            {"bar":72,"value":94.6,"value2":10.3},{"bar":91,"value":94.6,"value2":10.3},{"bar":117,"value":94.6,"value2":10.3},
            {"bar":141,"value":94.6,"value2":10.3},{"bar":165,"value":94.6,"value2":10.3},{"bar":189,"value":94.6,"value2":10.3},
            {"bar":213,"value":94.6,"value2":10.3},{"bar":237,"value":94.6,"value2":10.3}
          ]},
          "mark": {"type": "rule", "color": "#e4e6ea", "strokeWidth": 1},
          "encoding": {"y2": {"field": "value2"}}
        },
        {
          "data": {"values": [
            {"bar":-21.63,"bar2":244.45,"value":80},{"bar":-21.63,"bar2":244.45,"value":60},
            {"bar":-21.63,"bar2":244.45,"value":40},{"bar":-21.63,"bar2":244.45,"value":20}
          ]},
          "mark": {"type": "rule", "color": "#ced3dc", "strokeWidth": 1},
          "encoding": {"x2": {"field": "bar2"}}
        },
        {
          "data": {"name": "rsi"},
          "mark": {"type": "line", "color": "#a0a5ab", "strokeWidth": 0.9},
          "encoding": {"detail": {"field": "part"}}
        },
        {
          "data": {"values": [
            {"bar":-21.63,"bar2":253.4,"value":10.3,"value2":10.3},
            {"bar":-21.63,"bar2":-21.63,"value":94.6,"value2":10.3},
            {"bar":244.45,"bar2":244.45,"value":94.6,"value2":10.3},
            {"bar":253.4,"bar2":253.4,"value":94.6,"value2":10.3}
          ]},
          "mark": {"type": "rule", "color": "#8c8c8c", "strokeWidth": 1},
          "encoding": {"x2": {"field": "bar2"}, "y2": {"field": "value2"}}
        },
        {
          "data": {"values": [{"bar":-22.83,"bar2":254.55,"value":-0.4,"value2":-4.07}]},
          "mark": {"type": "rect", "color": "#f0f1f3"},
          "encoding": {"x2": {"field": "bar2"}, "y2": {"field": "value2"}}
        },
        {
          "data": {"values": [{"bar":-20.6,"value":85.4,"word":"RSI (7, close)"}]},
          "mark": {"type": "text", "fontSize": 7.7, "align": "left", "baseline": "middle", "color": "#777"},
          "encoding": {"text": {"field": "word"}}
        },
        {
          "data": {"values": [{"bar":-22.38,"value":4.2,"word":"24"}]},
          "mark": {"type": "text", "fontSize": 7.5, "baseline": "middle", "color": "#666", "clip": true},
          "encoding": {"text": {"field": "word"}}
        }
      ]
    }
  ]
}
